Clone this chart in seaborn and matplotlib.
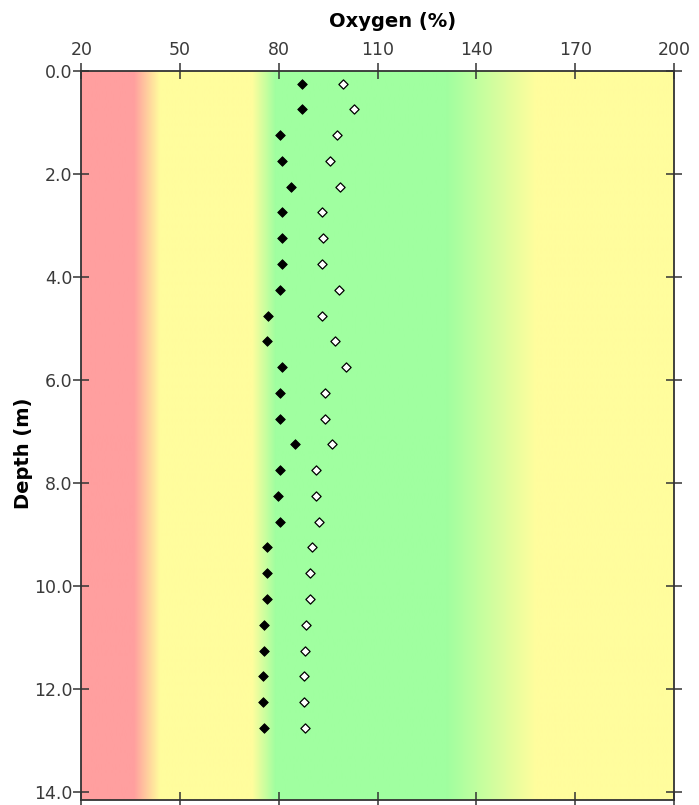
"""
Oxygen saturation depth profile drawn over a red/yellow/green band background.
"""
import numpy  as np
import pandas as pd
import matplotlib
matplotlib.use("Agg")
import matplotlib.pyplot as plt
import seaborn           as sns


# --------------------------------------------------------------------------------
# Data
# --------------------------------------------------------------------------------
depths = [0.25, 0.75, 1.25, 1.75, 2.25, 2.75, 3.25, 3.75, 4.25, 4.75, 5.25, 5.75, 6.25,
          6.75, 7.25, 7.75, 8.25, 8.75, 9.25, 9.75, 10.25, 10.75, 11.25, 11.75, 12.25, 12.75]

oxygen_filled = [87.1, 87.1, 80.2, 81.0, 83.6, 81.0, 81.0, 81.0, 80.2, 76.8, 76.4, 81.0, 80.2,
                 80.2, 85.0, 80.2, 79.8, 80.2, 76.4, 76.4, 76.4, 75.5, 75.5, 75.1, 75.1, 75.5]

oxygen_open   = [99.6, 102.8, 97.7, 95.6, 98.6, 93.0, 93.5, 93.0, 98.2, 93.0, 96.9, 100.3, 93.9,
                 93.9, 96.1, 91.3, 91.3, 92.1, 90.0, 89.6, 89.6, 88.3, 87.9, 87.5, 87.5, 87.9]

x_ticks = [20, 50, 80, 110, 140, 170, 200]
y_ticks = [0, 2, 4, 6, 8, 10, 12, 14]

# Background bands: (oxygen %, colour) stops, blended linearly in between
band_stops  = [20, 36, 44, 72, 79, 131, 158, 200]
band_colors = ["#ff9f9f", "#ff9f9f", "#fffd9d", "#fffd9d",
               "#a0ffa0", "#a0ffa0", "#fffd9d", "#fffd9d"]

# Depth axis runs a little past the last tick
y_bottom = 14.15


# Long-form table for seaborn
df = pd.concat([
    pd.DataFrame({"Depth": depths, "Oxygen": oxygen_filled, "series": "filled"}),
    pd.DataFrame({"Depth": depths, "Oxygen": oxygen_open,   "series": "open"}),
])

sns.set_style("white")
plt.rcParams["font.family"] = ["DejaVu Sans"]

fig = plt.figure(figsize=(6.99, 8.05), dpi=100)
ax  = fig.add_axes([0.1163, 0.0062, 0.8480, 0.9060])

# Gradient background built from the band stops
xs   = np.linspace(20, 200, 720)
rgbs = np.array([matplotlib.colors.to_rgb(c) for c in band_colors])
grad = np.stack([np.interp(xs, band_stops, rgbs[:, i]) for i in range(3)], axis=-1)
ax.imshow(grad[np.newaxis, :, :], extent=[20, 200, y_bottom, 0], aspect="auto",
          interpolation="bilinear", zorder=0)

# Points
sns.scatterplot(data=df[df.series == "filled"], x="Oxygen", y="Depth", ax=ax,
                marker="D", s=24, color="black", edgecolor="black", linewidth=0.6,
                zorder=3, legend=False)
sns.scatterplot(data=df[df.series == "open"], x="Oxygen", y="Depth", ax=ax,
                marker="D", s=22, color="white", edgecolor="black", linewidth=0.9,
                zorder=3, legend=False)

ax.set_xlim(20, 200)
ax.set_ylim(y_bottom, 0)
ax.set_xticks(x_ticks)
ax.set_yticks(y_ticks)
ax.set_yticklabels([f"{v:.1f}" for v in y_ticks])

# Axis on top, ticks crossing every spine
ax.xaxis.tick_top()
ax.xaxis.set_label_position("top")
ax.tick_params(which="both", direction="inout", length=11, width=1.1, color="#333333",
               top=True, bottom=True, left=True, right=True,
               labeltop=True, labelbottom=False, labelleft=True, labelright=False,
               labelsize=12.5, labelcolor="#3a3a3a")
ax.tick_params(axis="x", pad=3)
ax.tick_params(axis="y", pad=1)

for sp in ax.spines.values():
    sp.set_visible(True)
    sp.set_color("#333333")
    sp.set_linewidth(1.3)

ax.set_xlabel("Oxygen (%)", fontsize=14, fontweight="bold", color="black")
ax.set_ylabel("Depth (m)",  fontsize=14, fontweight="bold", color="black")
ax.xaxis.set_label_coords(0.525, 1.06)
ax.yaxis.set_label_coords(-0.081, 0.476)

fig.savefig("out.png", dpi=100)
